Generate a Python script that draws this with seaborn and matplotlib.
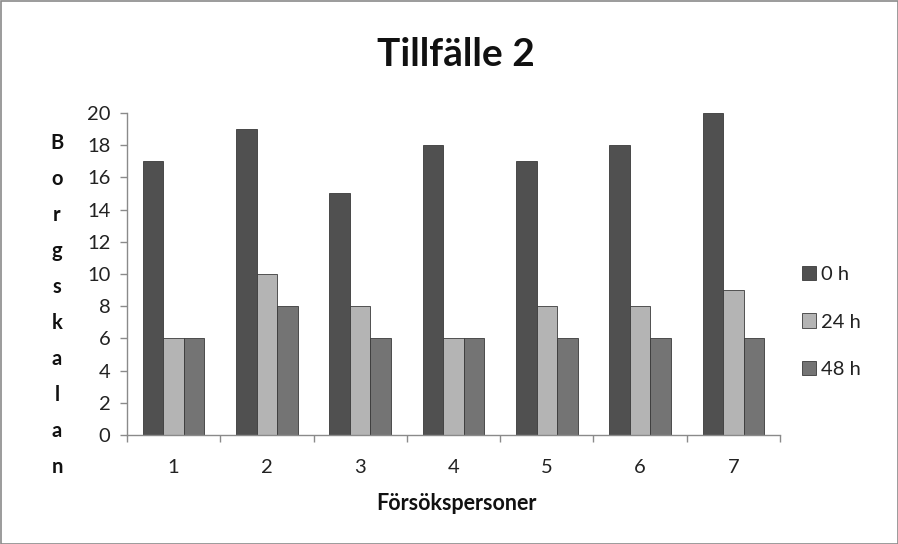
import matplotlib
matplotlib.use("Agg")
import matplotlib.pyplot as plt
import seaborn as sns
import pandas as pd
import numpy as np
from matplotlib.patches import Rectangle

categories = ["1", "2", "3", "4", "5", "6", "7"]
series_names = ["0 h", "24 h", "48 h"]
h0 = [17, 19, 15, 18, 17, 18, 20]
h24 = [6, 10, 8, 6, 8, 8, 9]
h48 = [6, 8, 6, 6, 6, 6, 6]
colors = ["#505050", "#b4b4b4", "#747474"]

rows = []
for name, vals in zip(series_names, [h0, h24, h48]):
    for c, v in zip(categories, vals):
        rows.append({"Försökspersoner": c, "Serie": name, "Värde": v})
df = pd.DataFrame(rows)

sns.set_theme(style="white")
plt.rcParams['font.family'] = ['Lato', 'DejaVu Sans']

fig = plt.figure(figsize=(8.98, 5.44), dpi=100)
ax = fig.add_axes([127/898, 1-435/544, 653/898, 322/544])

sns.barplot(data=df, x="Försökspersoner", y="Värde", hue="Serie",
            palette=colors, width=0.66, gap=0, ax=ax, errorbar=None,
            saturation=1, edgecolor="#3a3a3a", linewidth=0.6)

ax.set_ylim(0, 20)
ax.set_yticks(np.arange(0, 21, 2))
ax.set_xlim(-0.5, 6.5)
ax.set_xlabel("")
ax.set_ylabel("")
for s in ["top", "right"]:
    ax.spines[s].set_visible(False)
for s in ["left", "bottom"]:
    ax.spines[s].set_color("#8a8a8a")
    ax.spines[s].set_linewidth(1)

ax.tick_params(axis="y", direction="out", length=5, color="#8a8a8a", width=1,
               labelsize=14.5, labelcolor="#222222", left=True, pad=7)
ax.tick_params(axis="x", which="major", length=0, labelsize=14.5,
               labelcolor="#222222", pad=17)
ax.set_xticks(np.arange(-0.5, 7, 1), minor=True)
ax.tick_params(axis="x", which="minor", direction="out", length=5,
               color="#8a8a8a", width=1, bottom=True)

leg = fig.legend(handles=ax.get_legend().legend_handles,
                 labels=series_names, loc="center left",
                 bbox_to_anchor=(792/898, 1-322/544), frameon=False,
                 fontsize=14.5, handlelength=0.7, handleheight=0.7,
                 handletextpad=0.25, labelspacing=1.5, borderpad=0)
ax.get_legend().remove()
for t in leg.get_texts():
    t.set_color("#222222")

fig.text(456/898, 1-55/544, "Tillfälle 2", ha="center", va="center",
         fontsize=28, fontweight="bold", color="#111111")
fig.text(456/898, 1-503/544, "Försökspersoner", ha="center", va="center",
         fontsize=15.5, fontweight="bold", color="#111111")

label = "Borgskalan"
y0, y1 = 143, 467
for i, ch in enumerate(label):
    yy = y0 + (y1 - y0) * i / (len(label) - 1)
    fig.text(57/898, 1-yy/544, ch, ha="center", va="center",
             fontsize=14.5, fontweight="bold", color="#111111")

fig.patches.append(Rectangle((0.5/898, 0.5/544), 1-1/898, 1-1/544,
                             transform=fig.transFigure, fill=False,
                             edgecolor="#8a8a8a", linewidth=1.2))

fig.savefig("out.png", dpi=100)
